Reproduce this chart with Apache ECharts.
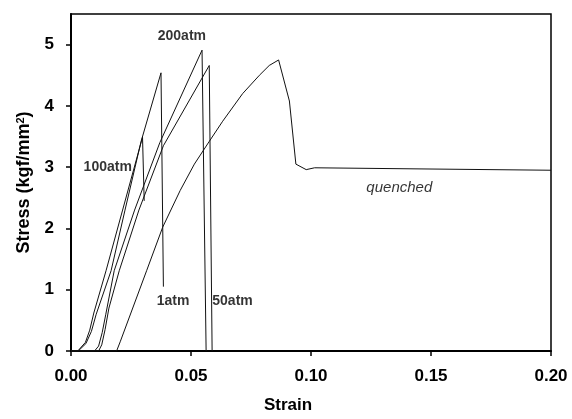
<!DOCTYPE html>
<html>
<head>
<meta charset="utf-8">
<script src="https://cdn.jsdelivr.net/npm/echarts@6/dist/echarts.min.js"></script>
<style>
  html, body { margin: 0; padding: 0; background: #fff; }
  #chart { width: 572px; height: 419px; }
</style>
</head>
<body>
<div id="chart"></div>
<script>
// strain, stress pairs
const curve1atm = [
  [0, 0], [0.003, 0], [0.0062, 0.12], [0.0085, 0.32], [0.0105, 0.6],
  [0.0167, 1.31], [0.0225, 2.3], [0.0292, 3.42], [0.0375, 4.54],
  [0.0385, 1.05]
];
const curve100atm = [
  [0, 0], [0.0028, 0], [0.006, 0.14], [0.0078, 0.34], [0.0095, 0.62],
  [0.0146, 1.31], [0.0215, 2.3], [0.0298, 3.49], [0.0305, 2.45]
];
const curve200atm = [
  [0, 0], [0.0098, 0], [0.0115, 0.08], [0.013, 0.3], [0.0145, 0.6],
  [0.018, 1.31], [0.0265, 2.3], [0.037, 3.4], [0.0546, 4.91],
  [0.0563, 0]
];
const curve50atm = [
  [0, 0], [0.0115, 0], [0.0128, 0.1], [0.0142, 0.35], [0.0158, 0.7],
  [0.0201, 1.31], [0.0283, 2.3], [0.0385, 3.35], [0.0576, 4.66],
  [0.0588, 0]
];
const curveQuenched = [
  [0, 0], [0.019, 0], [0.0205, 0.15], [0.0315, 1.31], [0.0382, 2.02],
  [0.0455, 2.62], [0.0514, 3.05], [0.0576, 3.42], [0.0632, 3.75],
  [0.0715, 4.2], [0.0785, 4.5], [0.0826, 4.66], [0.0865, 4.75],
  [0.091, 4.08], [0.0937, 3.05], [0.098, 2.96], [0.1015, 2.99],
  [0.15, 2.97], [0.2, 2.95]
];

const xTicks = [0, 0.05, 0.1, 0.15, 0.2];
const yTicks = [0, 1, 2, 3, 4, 5];

// curve names, placed in data coords
const curveLabels = [
  { name: "200atm", value: [0.0462, 5.14] },
  { name: "100atm", value: [0.0153, 3.0] },
  { name: "1atm", value: [0.0425, 0.81] },
  { name: "50atm", value: [0.0673, 0.81] },
  { name: "quenched", value: [0.1368, 2.67], italic: true }
];

const chart = echarts.init(document.getElementById("chart"));
const FONT = "Liberation Sans, Arial, sans-serif";

const lineSeries = (data) => ({
  type: "line",
  data,
  showSymbol: false,
  symbol: "none",
  lineStyle: { color: "#111", width: 1 },
  z: 2
});

const options = {
  animation: false,
  backgroundColor: "#fff",
  textStyle: { fontFamily: FONT },
  grid: {
    left: 71, right: 21, top: 14, bottom: 68,
    show: true,
    borderColor: "#000",
    borderWidth: 1.5
  },
  xAxis: {
    type: "value",
    min: 0,
    max: 0.2,
    interval: 0.05,
    name: "Strain",
    nameLocation: "middle",
    nameGap: 46,
    nameTextStyle: {
      fontSize: 17, fontWeight: "bold", color: "#000", fontFamily: FONT,
      padding: [0, 46, 0, 0]
    },
    splitLine: { show: false },
    axisLine: { lineStyle: { color: "#000", width: 2 } },
    axisTick: { show: true, length: 5, lineStyle: { color: "#000", width: 1.5 } },
    axisLabel: {
      customValues: xTicks,
      margin: 17,
      fontSize: 17,
      fontWeight: "bold",
      color: "#000",
      fontFamily: FONT,
      formatter: (v) => v.toFixed(2)
    }
  },
  yAxis: {
    type: "value",
    min: 0,
    max: 5.5,
    interval: 1,
    name: "Stress (kgf/mm{sup|2})",
    nameLocation: "middle",
    nameGap: 37,
    nameTextStyle: {
      fontSize: 18, fontWeight: "bold", color: "#000", fontFamily: FONT,
      rich: {
        sup: { fontSize: 11, fontWeight: "bold", color: "#000", fontFamily: FONT, verticalAlign: "top", padding: [0, 0, 8, 0] }
      }
    },
    splitLine: { show: false },
    axisLine: { lineStyle: { color: "#000", width: 2 } },
    axisTick: { show: true, length: 5, customValues: yTicks, lineStyle: { color: "#000", width: 1.5 } },
    axisLabel: {
      customValues: yTicks,
      margin: 17,
      fontSize: 17,
      fontWeight: "bold",
      color: "#000",
      fontFamily: FONT
    }
  },
  series: [
    lineSeries(curve1atm),
    lineSeries(curve100atm),
    lineSeries(curve200atm),
    lineSeries(curve50atm),
    lineSeries(curveQuenched),
    {
      type: "scatter",
      symbolSize: 0,
      silent: true,
      z: 5,
      data: curveLabels.map((l) => ({
        name: l.name,
        value: l.value,
        label: l.italic
          ? { fontStyle: "italic", fontWeight: "normal", fontSize: 15 }
          : {}
      })),
      label: {
        show: true,
        position: "inside",
        formatter: "{b}",
        fontSize: 14,
        fontWeight: "bold",
        color: "#000",
        fontFamily: FONT
      }
    }
  ]
};

chart.setOption(options);
</script>
</body>
</html>
